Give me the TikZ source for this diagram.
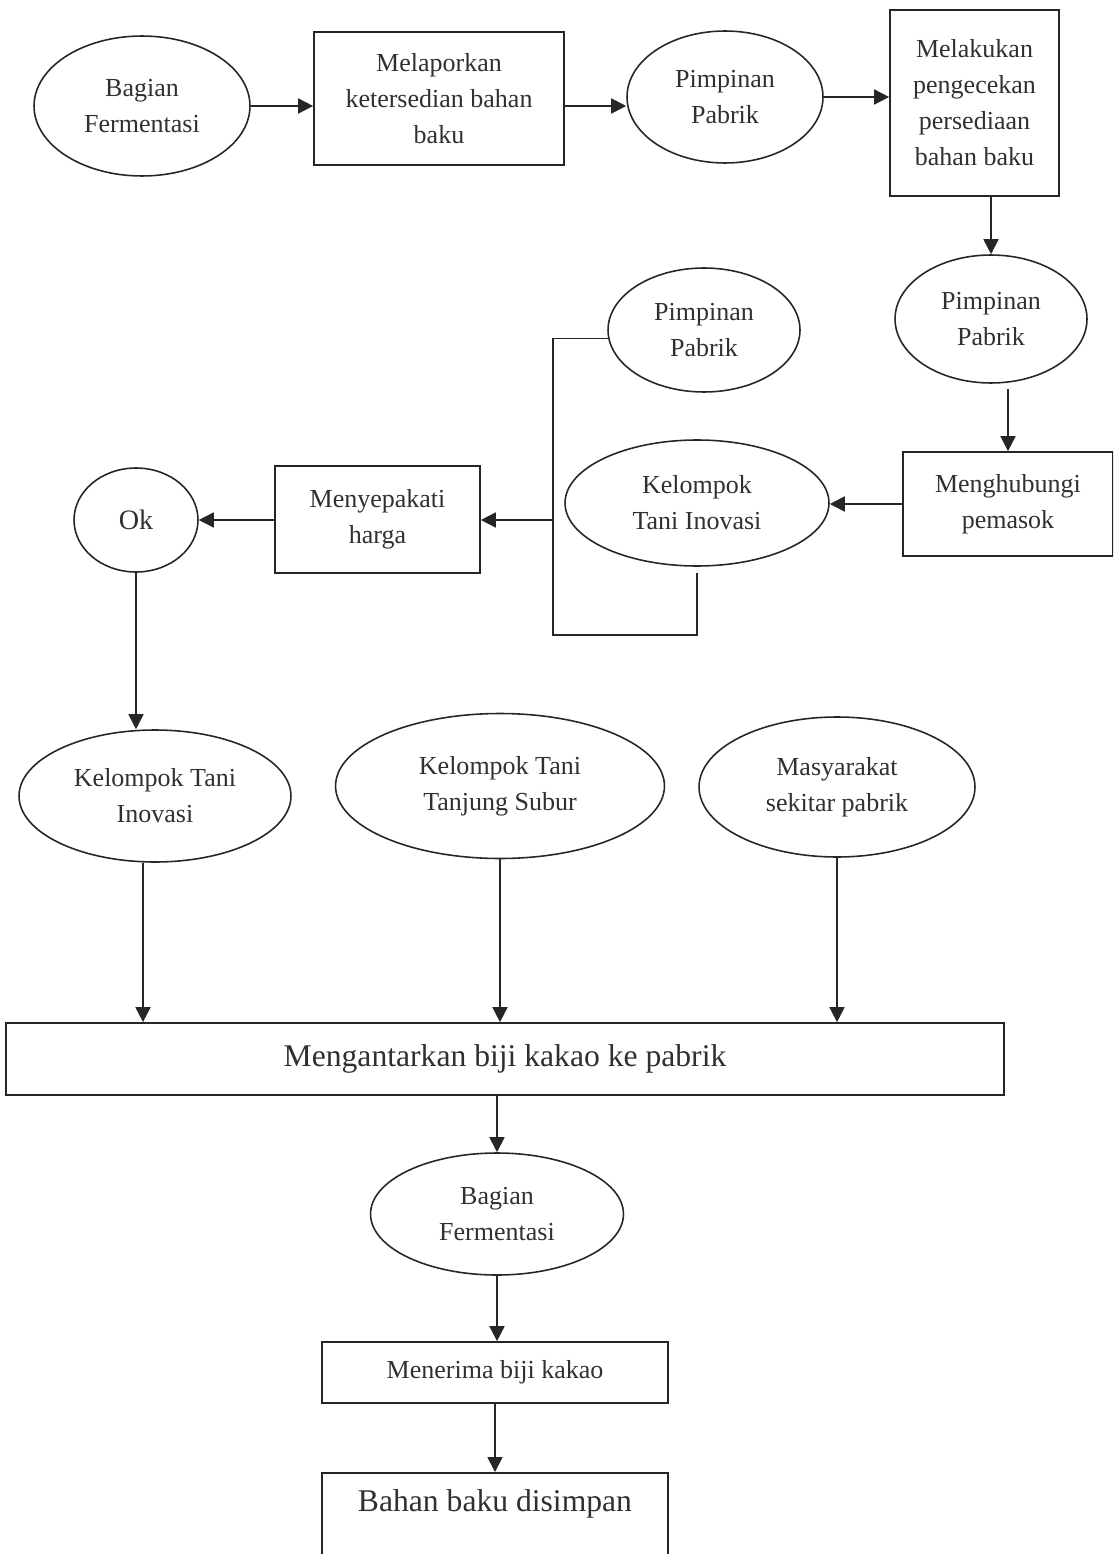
\documentclass[tikz,border=0pt]{standalone}
\usepackage{fontspec}
\setmainfont{Liberation Serif}
\usetikzlibrary{shapes.geometric,arrows.meta}
\definecolor{garis}{HTML}{262626}
\definecolor{huruf}{HTML}{303030}

\begin{document}
\begin{tikzpicture}[x=0.02cm,y=-0.02cm,
  teks/.style={text=huruf,align=center,inner sep=0pt,font=\fontsize{14.8}{20.5}\selectfont},
  oval/.style={teks,ellipse,draw=garis,line width=0.9pt},
  kotak/.style={teks,rectangle,draw=garis,line width=1pt},
  panah/.style={draw=garis,line width=1pt,-{Triangle[length=0.3cm,width=0.3cm]}},
  garisan/.style={draw=garis,line width=1pt}]
\useasboundingbox (0,0) rectangle (1113,1554);
\clip (0,0) rectangle (1113,1554);
% baris atas
\node[oval,minimum width=4.32cm,minimum height=2.8cm] (fer1) at (142,106) {Bagian\\Fermentasi};
\node[kotak,minimum width=5cm,minimum height=2.66cm] (lapor) at (439,98.5) {Melaporkan\\ketersedian bahan\\baku};
\node[oval,minimum width=3.92cm,minimum height=2.64cm] (pim1) at (725,97) {Pimpinan\\Pabrik};
\node[kotak,minimum width=3.38cm,minimum height=3.72cm] (cek) at (974.5,103) {Melakukan\\pengecekan\\persediaan\\bahan baku};
\node[oval,minimum width=3.84cm,minimum height=2.56cm] (pim2) at (991,319) {Pimpinan\\Pabrik};
\node[kotak,minimum width=4.2cm,minimum height=2.08cm] (hub) at (1008,504) {Menghubungi\\pemasok};
% pemasok
\node[oval,minimum width=3.84cm,minimum height=2.48cm] (pim3) at (704,330) {Pimpinan\\Pabrik};
\node[oval,minimum width=5.28cm,minimum height=2.52cm] (kti1) at (697,503) {Kelompok\\Tani Inovasi};
\coordinate (brbot) at (553,635);
\node[kotak,minimum width=4.1cm,minimum height=2.14cm] (sepakat) at (377.5,519.5) {Menyepakati\\harga};
\node[oval,minimum width=2.48cm,minimum height=2.08cm,font=\fontsize{16}{20}\selectfont] (ok) at (136,520) {Ok};
% sumber biji kakao
\node[oval,minimum width=5.44cm,minimum height=2.64cm] (kti2) at (155,796) {Kelompok Tani\\Inovasi};
\node[oval,minimum width=6.58cm,minimum height=2.9cm] (kts) at (500,786) {Kelompok Tani\\Tanjung Subur};
\node[oval,minimum width=5.52cm,minimum height=2.8cm] (mas) at (837,787) {Masyarakat\\sekitar pabrik};
\node[kotak,minimum width=19.96cm,minimum height=1.44cm,font=\fontsize{18}{22}\selectfont] (antar) at (505,1059) {Mengantarkan biji kakao ke pabrik};
\node[oval,minimum width=5.06cm,minimum height=2.44cm] (fer2) at (497,1214) {Bagian\\Fermentasi};
\node[kotak,minimum width=6.92cm,minimum height=1.22cm] (terima) at (495,1372.5) {Menerima biji kakao};
\node[kotak,anchor=north,minimum width=6.92cm,text height=0.78cm,text depth=1.42cm,font=\fontsize{18}{22}\selectfont] (simpan) at (495,1472) {Bahan baku disimpan};
% alur
\draw[panah] (fer1.east) -- (fer1.east -| lapor.west);
\draw[panah] (fer1.east -| lapor.east) -- (fer1.east -| pim1.west);
\draw[panah] (pim1.east) -- (pim1.east -| cek.west);
\draw[panah] (pim2.north |- cek.south) -- (pim2.north);
\draw[panah] ([yshift=-0.1cm]hub.north |- pim2.south) -- (hub.north);
\draw[panah] (hub.west) -- (hub.west -| kti1.east);
\draw[garisan] (pim3.185) -| (brbot) -| ([yshift=-0.12cm]kti1.south);
\draw[panah] (brbot |- ok.east) -- (ok.east -| sepakat.east);
\draw[panah] (sepakat.west |- ok.east) -- (ok.east);
\draw[panah] (ok.south) -- (ok.south |- kti2.north);
\draw[panah] ([xshift=-0.24cm]kti2.south) -- ([xshift=-0.24cm]kti2.south |- antar.north);
\foreach \asal in {kts,mas}
  \draw[panah] (\asal.south) -- (\asal.south |- antar.north);
\draw[panah] (fer2.north |- antar.south) -- (fer2.north);
\draw[panah] (fer2.south) -- (fer2.south |- terima.north);
\draw[panah] (terima.south) -- (terima.south |- simpan.north);
\end{tikzpicture}
\end{document}
